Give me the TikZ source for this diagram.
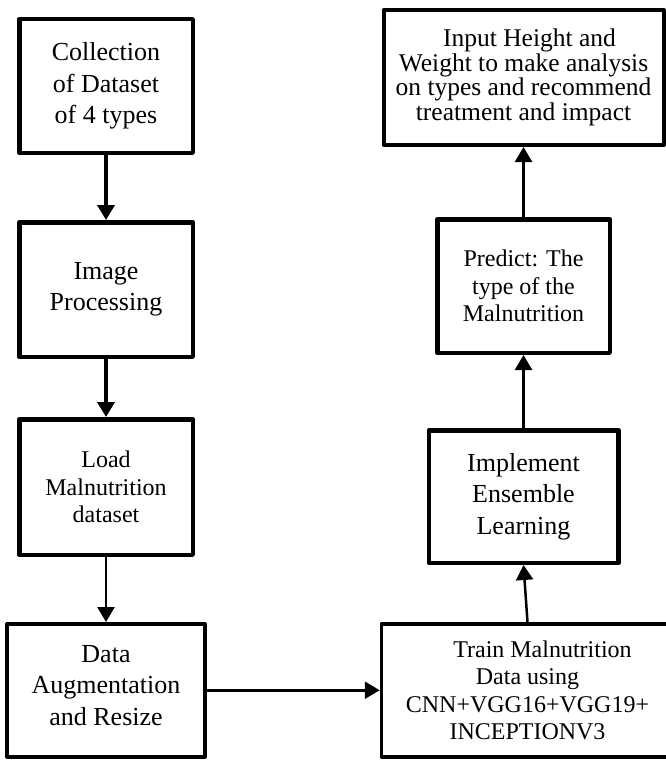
\documentclass[tikz,border=0pt]{standalone}
\usepackage{fontspec}
\setmainfont{Liberation Serif}
\usepackage{tikz}
\usetikzlibrary{positioning,arrows.meta}

\begin{document}
\begin{tikzpicture}[
						block/.style={rectangle, draw=black!100, line width=4.5pt, line join=round, align=center, inner sep=0pt, font=\fontsize{26}{31.5}\selectfont},
						small/.style={font=\fontsize{24}{27.5}\selectfont},
						tight/.style={font=\fontsize{25.5}{24.5}\selectfont},
						link/.style={line width=2.5pt, -{Triangle[length=15pt,width=17pt]}}
					]
					\useasboundingbox (0,0) rectangle (666pt,-760pt);
					% left column, top to bottom
					\node[block, minimum width=173.5pt, minimum height=133.5pt] (collect) at (106pt,-86pt) {Collection\\of Dataset\\of 4 types};
					\node[block, minimum width=173.5pt, minimum height=134.5pt] (process) [below=65pt of collect] {Image\\Processing};
					\node[block, small, minimum width=173.5pt, minimum height=135.5pt] (load) [below=58pt of process] {Load\\Malnutrition\\dataset};
					\node[block, line width=4pt, minimum width=197.5pt, minimum height=132.5pt, text depth=10pt] (augment) [below=65pt of load] {Data\\Augmentation\\and Resize};
					% right column, bottom to top (train box runs off the right edge)
					\node[block, small, line width=3.5pt, minimum width=292pt, minimum height=133pt] (train) [right=173pt of augment] {\hspace{30pt}Train Malnutrition\\Data using\\CNN+VGG16+VGG19+\\INCEPTIONV3};
					\node[block, minimum width=189.5pt, minimum height=132.5pt] (ensemble) [above=57pt of train, xshift=-4pt] {Implement\\Ensemble\\Learning};
					\node[block, small, minimum width=172.5pt, minimum height=133.5pt] (predict) [above=73pt of ensemble] {Predict: The\\type of the\\Malnutrition};
					\node[block, tight, line width=4pt, minimum width=280pt, minimum height=135pt] (result) [above=70pt of predict] {\hspace{12pt}Input Height and\\Weight to make analysis\\on types and recommend\\treatment and impact};
					\begin{scope}[link]
					\draw[line width=4pt] (collect.south) -- (process.north);
					\draw[line width=4pt] (process.south) -- (load.north);
					\draw (load.south) -- (augment.north);
					\draw (augment.east) -- (train.west);
					\draw (train.north) -- (ensemble.south);
					\draw (ensemble.north) -- (predict.south);
					\draw (predict.north) -- (result.south);
					\end{scope}
					\end{tikzpicture}
\end{document}
